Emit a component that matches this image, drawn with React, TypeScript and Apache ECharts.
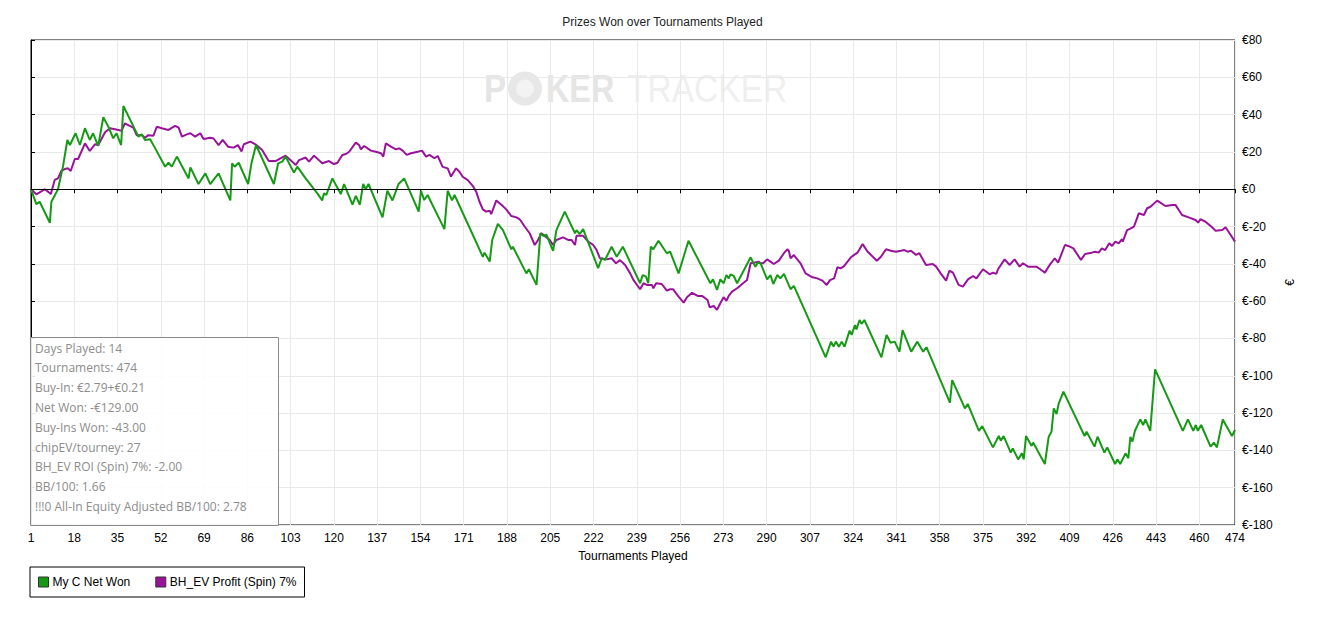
import React, { useEffect, useRef } from "react";
import * as echarts from "echarts";

const chartTitle = "Prizes Won over Tournaments Played";
const xAxisName = "Tournaments Played";
const yAxisName = "€";
const seriesNames = ["My C Net Won", "BH_EV Profit (Spin) 7%"];
const seriesColors = ["#169a16", "#9a129a"];

const xFirst = 1;
const xLast = 474;
const xStep = 17;
const yMin = -180;
const yMax = 80;
const yStep = 20;

const netWonX = [
  1, 3.1, 4.4, 8.4, 9.0, 11.6, 13.6, 15.3, 16.3, 18.5, 20.2, 22.2, 24.1, 25.4, 27.4, 29.4, 31.4, 33.3, 34.6, 36.4,
  37.3, 43.2, 44.5, 45.8, 47.8, 49.8, 53.7, 55, 56.3, 58.3, 62.9, 63.6, 66.8, 69.5, 71.4, 74.7, 79.3, 80, 81, 82.6,
  86.3, 87.6, 89.4, 96.4, 98.1, 99.7, 101, 104.3, 105.6, 108.9, 112.2, 113.5, 115.4, 116.1, 117, 119.4, 122.7, 124,
  127.3, 128.6, 130.2, 131.5, 132.5, 133.6, 139.1, 141, 143, 145.4, 147.6, 153.3, 154.2, 155.5, 156.8, 163.4, 164.7,
  166.4, 167.4, 178.5, 179.2, 181.2, 182.2, 184.4, 186.4, 189.7, 190.3, 195.6, 196.6, 199.6, 201.1, 202.2, 203.5,
  206.1, 207.4, 210.7, 214.7, 215.3, 216.6, 217.9, 223.8, 225.2, 226.5, 229.1, 231.1, 233.5, 240.3, 241.3, 242.6,
  243.5, 244.5, 245.5, 247.5, 250.8, 252.1, 255.4, 259.3, 267.9, 268.9, 270.5, 271.8, 273.1, 274.2, 275.1, 275.8,
  277.1, 278.4, 283.7, 285, 285.6, 286.5, 287.6, 290.2, 291.5, 292.6, 294.2, 295.4, 296.8, 299.4, 300.7, 313.2,
  315.3, 316.3, 317.2, 318.4, 319.5, 320.6, 322.6, 323.4, 324.7, 325.3, 326.5, 327.3, 328.4, 335.1, 337.1, 338.7,
  340.3, 342.2, 343.4, 346.8, 349.2, 351.5, 352.8, 362, 362.9, 367.9, 369, 373.4, 374.7, 378.9, 381.2, 382, 383.1,
  385.9, 386.7, 388.8, 390.3, 391, 391.9, 394.1, 394.7, 399.3, 400.8, 401.9, 402.8, 403.9, 404.7, 406.6, 414.9,
  415.7, 418.8, 420, 422.7, 423.8, 426.9, 427.8, 428.9, 431, 432.1, 432.9, 433.7, 434.7, 436.8, 437.9, 438.8, 440.7,
  442.6, 453.5, 455.5, 457.6, 458.6, 459.4, 460.7, 464.4, 465.7, 466.9, 469.2, 472.8, 474,
];
const netWonY = [
  0, -8, -6.7, -18, -6.7, 0, 12.5, 26.4, 23.7, 30, 23.7, 32.7, 26.4, 30, 23.2, 38.6, 33.5, 27.3, 30, 23.7,
  44.6, 28.2, 29.5, 26.4, 26.8, 21.9, 12.1, 14.2, 12.1, 17.5, 5.8, 11.7, 2.8, 8.5, 2.8, 8.5, -6, 13.9, 12.1, 14.2,
  2.8, 13.9, 23.7, 2.8, 13.9, 14.8, 17.5, 8.9, 12.1, 5.8, 0, -2.2, -6, -2.2, -3.1, 5.8, -2.6, 2.8,
  -8.3, -3.6, -8.3, 2.8, 0, 2.8, -15.1, -0.8, -6, 2.8, 5.8, -12, -0.8, -5.8, -3.1, -21.4, -0.8,
  -6, -3.1, -36.2, -34, -38.8, -27.2, -18.6, -21.9, -32.2, -30.8, -45.1, -42.9, -51.3, -23.6, -25, -24.4,
  -33, -21.9, -12, -23.6, -21.9, -24, -21.4, -42.3, -37, -37.9, -30.8, -36.2, -30.8, -50.4, -46, -46.9,
  -50.4, -30.8, -32.2, -27.6, -34.3, -33.5, -45.1, -27.6, -50.4, -48.3, -54, -48.3, -50.4, -46, -47.8, -45.6,
  -46.5, -50.4, -36.5, -40.1, -41.5, -39.4, -39.7, -48.3, -46, -50.8, -46, -47.8, -45.4, -53.6, -51.8, -90.1,
  -81.7, -84.4, -81.7, -84.4, -81.7, -84.4, -75.8, -78.1, -72.8, -75.1, -70.1, -72.2, -70.1, -90.1, -78.1, -82.3,
  -81.7, -87.1, -75.5, -87.1, -81.7, -87.1, -84.7, -114.4, -102.3, -117.5, -115.1, -129.5, -127, -138.4, -132.3, -134.8, -132.3,
  -141.2, -138.9, -144.8, -141.6, -144.8, -132.3, -137.6, -135.8, -147.3, -132.7, -130, -117.5, -120.5, -115.1, -108.5, -132.3,
  -130, -138, -132.7, -141.2, -138.4, -147.3, -144.8, -147.3, -141.6, -144.2, -132.7, -135.3, -129.5, -123.4, -126.4, -123.4, -129.5,
  -96.6, -129.5, -123.4, -129.5, -126.4, -129.5, -126.4, -138, -135.8, -138.4, -123.4, -132.3, -129,
];

const evProfitX = [
  1, 3.1, 4.4, 6.4, 7.7, 8.8, 10.3, 11.6, 12.9, 14.3, 15.6, 16.6, 18.2, 19.5, 22.2, 24.1, 26.1, 27.4, 30.1, 32,
  35.4, 36.6, 37.9, 39.2, 41.2, 42.5, 44.5, 45.8, 47.1, 49.1, 50.4, 52.4, 55, 57.6, 59, 60.3, 62.2, 63.6, 65.5, 67.5,
  68.8, 71.4, 72.7, 74.7, 76.3, 78.4, 80.6, 82.3, 83.7, 84.6, 87.2, 89.2, 91.8, 94.4, 97.1, 99, 101, 103, 105, 106.3,
  108.9, 110.2, 112.2, 114.1, 115.4, 118.1, 120, 121.4, 123.3, 124.7, 126, 128.6, 129.9, 130.6, 131.9, 134.5, 136.5,
  138.5, 139.4, 140.4, 142.4, 144.4, 145.7, 147, 148.6, 150.3, 152.9, 154.6, 156.2, 157.5, 159.5, 160.8, 162.7,
  164.7, 166, 168, 169.3, 170.6, 172.6, 174.6, 175.9, 177.2, 178.5, 179.8, 181.2, 181.8, 183.8, 185.8, 187.7, 189.7,
  191.7, 193, 195, 196.9, 198.9, 200.2, 201.5, 202.8, 204.8, 206.1, 207.4, 210, 212, 213.4, 214.7, 215.3, 217.9,
  219.9, 221.9, 223.2, 224.5, 227.2, 229.1, 230.8, 232.4, 234.4, 236.4, 237.7, 240.3, 241.6, 242.9, 244.9, 245.5,
  246.6, 248.8, 250.8, 252.1, 253.2, 255.4, 257.4, 258.7, 260.7, 262.9, 264.6, 266.8, 267.6, 269.2, 270.5, 271.8,
  273.1, 274.2, 275.1, 276.4, 278.4, 280.4, 282.3, 283.7, 285, 286.9, 287.6, 288.6, 290.2, 291.5, 292.8, 294.8,
  296.8, 298.1, 298.7, 299.4, 300.7, 303.3, 305.3, 308, 309.9, 311.9, 313.6, 314.9, 316.5, 317.8, 319.1, 320.4,
  323.1, 324.4, 325.7, 327.7, 329.7, 333.3, 334.9, 336.9, 338.8, 340.8, 342.8, 344.1, 345.4, 346.7, 348.7, 350,
  352.6, 355.3, 356.6, 358.5, 360.5, 361.8, 363.2, 365.4, 367.1, 369.1, 371.1, 372.4, 375, 377.6, 378.9, 380.2,
  380.9, 383.5, 385.5, 387.4, 389.4, 390.7, 392.7, 396, 397.9, 399.3, 401.2, 403.2, 404.5, 407.2, 408.5, 410.5,
  413.5, 415.1, 417.7, 419, 420.4, 421.7, 423, 424.6, 425.7, 427, 428.3, 429.6, 429.9, 431.6, 432.9, 434.3, 436.2,
  438.2, 439.5, 440.8, 443.4, 446.7, 449.3, 450.6, 453.2, 455.8, 458.5, 459.5, 460.4, 462.4, 465, 466.3, 469,
  470.3, 472.3, 474,
];
const evProfitY = [
  0, -2.7, -1.7, 0, -1.3, -2.6, 5, 5.8, 9.8, 10.8, 11.2, 9.8, 16.2, 16.2, 24.6, 20.5, 24.1, 23.7, 30.5, 32.7,
  31.8, 31.4, 35.3, 34.4, 33, 29, 29, 27.6, 29, 28.7, 33.5, 32.7, 31.8, 34, 33, 28.2, 29.4, 30, 28.2, 30,
  26.9, 27.6, 27.2, 23.7, 26.4, 22.8, 22.3, 23.7, 20.2, 24.1, 25.5, 24.1, 21, 15.1, 15.1, 16.6, 18, 15.6, 13, 15.6,
  17, 14.8, 18, 15.6, 13.9, 15.1, 13.5, 14.2, 18.4, 18.9, 20.1, 25, 23.7, 21.4, 23.2, 20.7, 20.1,
  19.3, 17.5, 24.6, 22.8, 21.4, 21.9, 20.7, 18.4, 19.3, 20.1, 20.7, 17.5, 18.4, 16.6, 17.8, 12,
  11.2, 6.8, 11.2, 9.4, 6.7, 4.9, 1.7, -1.3, -6.7, -10.8, -12, -11.5, -13.4, -6, -8.3, -10.8, -14.4,
  -15.1, -16.1, -20.1, -23.6, -29.9, -27.2, -23.6, -25, -27.2, -29.9, -27.2, -25.8, -27.2, -27.2, -29.9, -25, -25,
  -28.1, -29.9, -32.6, -37, -37.6, -37, -39.7, -38, -40.6, -45.1, -48.7, -53.6, -50.4, -51.3, -51.3, -53.1,
  -50.4, -50.8, -54.4, -53.6, -53.6, -57.6, -60.8, -57.9, -55.5, -57.2, -57.2, -59.4, -63.3, -62.6, -64.7, -61.1,
  -57.9, -59.8, -57.2, -54.9, -53.1, -50.8, -48.7, -39.7, -39.4, -38.8, -39.7, -39.7, -37.6, -38.8, -40.1, -38.3,
  -34.3, -32.2, -33, -37, -35.3, -39.7, -45.1, -47.2, -47.8, -49, -51.3, -48.7, -47.8, -41.8, -42.4, -41.2,
  -36.5, -35.2, -34, -29.4, -33.5, -38.3, -36.2, -32.2, -33, -33.5, -33, -32.6, -33.5, -33, -35.2, -34.3,
  -40.6, -40.1, -41.5, -45.4, -49, -43.7, -44.7, -51.3, -52.2, -48.3, -46.5, -47.8, -42.9, -45.6, -44.7, -45.4,
  -42.9, -37.6, -40.6, -37.6, -41.5, -39.7, -41.5, -41.5, -43.3, -44.7, -40.6, -37, -39.4, -29.9, -30.4, -31.7,
  -37.9, -34.7, -34, -33.5, -34, -31.7, -32.6, -29, -30.4, -28.1, -29, -26.8, -28.1, -21.9, -21.1, -20.1, -12.9,
  -13.8, -10.2, -9.4, -6.1, -9, -8.4, -8.4, -13.8, -15.1, -16.5, -17.9, -16.1, -17.4, -20.4, -22.2, -21.9,
  -20.4, -24.5, -28.1,
];

const statsLines = [
  "Days Played: 14",
  "Tournaments: 474",
  "Buy-In: €2.79+€0.21",
  "Net Won: -€129.00",
  "Buy-Ins Won: -43.00",
  "chipEV/tourney: 27",
  "BH_EV ROI (Spin) 7%: -2.00",
  "BB/100: 1.66",
  "!!!0 All-In Equity Adjusted BB/100: 2.78",
];

const axisFont = "'Liberation Sans', Arial, sans-serif";
const logoFont = "'Liberation Sans', Arial, sans-serif";

function buildPoints(xs: number[], ys: number[]) {
  return xs.map((x, i) => [x - xFirst, ys[i]]);
}

export default function App() {
  const ref = useRef<HTMLDivElement>(null);

  useEffect(() => {
    if (!ref.current) return;
    const chart = echarts.init(ref.current, null, { renderer: "svg" });

    const statsTexts = statsLines.map((line, i) => ({
      type: "text",
      left: 35,
      top: 342 + i * 19.8,
      silent: true,
      style: {
        text: line,
        fill: "#8c8c8c",
        font: "12px 'Open Sans', 'Noto Sans', sans-serif",
      },
      z: 101,
    }));

    chart.setOption({
      animation: false,
      backgroundColor: "#ffffff",
      title: {
        text: chartTitle,
        left: "center",
        top: 16,
        padding: 0,
        textStyle: { fontSize: 12, fontWeight: "normal", color: "#222", fontFamily: axisFont },
      },
      legend: {
        left: 30,
        top: 567,
        orient: "horizontal",
        padding: [9, 8, 9, 8],
        borderColor: "#000",
        borderWidth: 1,
        itemWidth: 10,
        itemHeight: 10,
        itemGap: 25,
        icon: "rect",
        itemStyle: { borderColor: "#333", borderWidth: 1 },
        textStyle: { fontSize: 12, color: "#000", fontFamily: axisFont, padding: [0, 0, 0, -1] },
        data: seriesNames,
      },
      grid: {
        left: 31,
        right: 90,
        top: 40,
        bottom: 92,
        show: true,
        borderColor: "#000",
        borderWidth: 1,
        backgroundColor: "#fff",
      },
      xAxis: {
        type: "value",
        min: 0,
        max: xLast - xFirst,
        interval: xStep,
        name: xAxisName,
        nameLocation: "middle",
        nameGap: 25,
        nameTextStyle: { fontSize: 12, color: "#000", fontFamily: axisFont },
        axisLine: { show: true, lineStyle: { color: "#000", width: 1 } },
        axisTick: { show: true, length: 4, lineStyle: { color: "#000" } },
        axisLabel: {
          color: "#000",
          fontSize: 12,
          fontFamily: axisFont,
          margin: 7,
          showMinLabel: true,
          showMaxLabel: true,
          formatter: (v: number) => String(Math.round(v + xFirst)),
        },
        splitLine: { show: true, lineStyle: { color: "#e9e9e9", width: 1 } },
      },
      yAxis: {
        type: "value",
        position: "right",
        min: yMin,
        max: yMax,
        interval: yStep,
        name: yAxisName,
        nameLocation: "middle",
        nameGap: 49,
        nameRotate: 90,
        nameTextStyle: { fontSize: 12, color: "#000", fontFamily: axisFont },
        axisLine: { show: true, lineStyle: { color: "#000", width: 1 } },
        axisTick: { show: true, length: 4, lineStyle: { color: "#000" } },
        axisLabel: {
          color: "#000",
          fontSize: 12,
          fontFamily: axisFont,
          margin: 7,
          formatter: (v: number) => "€" + v,
        },
        splitLine: { show: true, lineStyle: { color: "#e9e9e9", width: 1 } },
      },
      graphic: [
        {
          type: "group",
          silent: true,
          z: 1,
          children: [
            {
              type: "text",
              x: 484,
              y: 89,
              scaleX: 0.85,
              style: {
                text: "P",
                fill: "#e5e5e5",
                font: "bold 39px " + logoFont,
                textVerticalAlign: "middle",
              },
            },
            {
              type: "circle",
              shape: { cx: 525, cy: 88.5, r: 17 },
              style: { fill: "#e7e7e7" },
            },
            {
              type: "circle",
              shape: { cx: 525, cy: 88.5, r: 9 },
              style: { fill: "#f3f3f3" },
            },
            {
              type: "text",
              x: 546,
              y: 89,
              scaleX: 0.83,
              style: {
                text: "KER",
                fill: "#e5e5e5",
                font: "bold 39px " + logoFont,
                textVerticalAlign: "middle",
              },
            },
            {
              type: "text",
              x: 627,
              y: 89,
              scaleX: 0.86,
              style: {
                text: "TRACKER",
                fill: "#efefef",
                font: "39px " + logoFont,
                textVerticalAlign: "middle",
              },
            },
          ],
        },
        {
          type: "rect",
          left: 30,
          top: 337,
          silent: true,
          z: 100,
          shape: { width: 248, height: 188 },
          style: { fill: "rgba(255,255,255,0.9)", stroke: "#8a8a8a", lineWidth: 1 },
        },
        ...statsTexts,
      ],
      series: [
        {
          name: seriesNames[0],
          type: "line",
          data: buildPoints(netWonX, netWonY),
          showSymbol: false,
          symbol: "none",
          lineStyle: { color: seriesColors[0], width: 2 },
          itemStyle: { color: seriesColors[0] },
          z: 3,
          markLine: {
            silent: true,
            symbol: "none",
            label: { show: false },
            lineStyle: { color: "#000", type: "solid", width: 1 },
            data: [{ yAxis: 0 }],
          },
        },
        {
          name: seriesNames[1],
          type: "line",
          data: buildPoints(evProfitX, evProfitY),
          showSymbol: false,
          symbol: "none",
          lineStyle: { color: seriesColors[1], width: 2 },
          itemStyle: { color: seriesColors[1] },
          z: 2,
        },
      ],
    });

    return () => chart.dispose();
  }, []);

  return (
    <div
      ref={ref}
      style={{ position: "fixed", left: 0, top: 0, width: 1325, height: 617, background: "#fff" }}
    />
  );
}
